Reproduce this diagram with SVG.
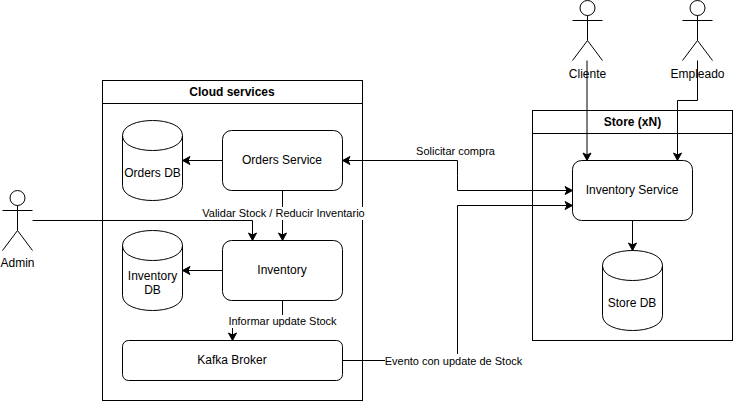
<svg xmlns="http://www.w3.org/2000/svg" width="733" height="401" viewBox="0 0 733 401">
<defs>
<style>
.s{fill:#fff;stroke:#000;stroke-width:1}
.n{fill:none;stroke:#000;stroke-width:1}
.c{fill:none;stroke:#000;stroke-width:1;stroke-miterlimit:10}
.a{marker-end:url(#arrow)}
text{font-family:"Liberation Sans",Arial,Helvetica,sans-serif;font-size:12px;fill:#000;text-anchor:middle}
.b{font-weight:bold}
.l{font-size:11px}
.bg{fill:#fff;stroke:none}
</style>
<marker id="arrow" markerUnits="userSpaceOnUse" markerWidth="12" markerHeight="12" viewBox="0 0 12 12" refX="10" refY="6" orient="auto">
<path d="M10 6L2.5 10L4.5 6L2.5 2Z" fill="#000" stroke="#000" stroke-width="1"/>
</marker>
</defs>
<rect width="733" height="401" fill="#fff"/>
<g id="cloud-services">
<rect class="s" x="102.5" y="80.5" width="260" height="320"/>
<path class="n" d="M102.5 103.5H362.5"/>
<text class="b" x="232" y="96">Cloud services</text>
</g>
<g id="store">
<rect class="s" x="532.5" y="110.5" width="200" height="230"/>
<path class="n" d="M532.5 133.5H732.5"/>
<text class="b" x="632.5" y="126">Store (xN)</text>
</g>
<g id="orders-db">
<path class="s" d="M122.5 135.5C122.5 115.5 182.5 115.5 182.5 135.5V185.5C182.5 205.5 122.5 205.5 122.5 185.5Z"/>
<path class="n" d="M122.5 135.5C122.5 155.5 182.5 155.5 182.5 135.5"/>
<text x="152.5" y="177">Orders DB</text>
</g>
<g id="orders-service">
<rect class="s" x="222.5" y="130.5" width="120" height="60" rx="9" ry="9"/>
<text x="282" y="164">Orders Service</text>
</g>
<g id="inventory-db">
<path class="s" d="M122.5 245.5C122.5 225.5 182.5 225.5 182.5 245.5V295.5C182.5 315.5 122.5 315.5 122.5 295.5Z"/>
<path class="n" d="M122.5 245.5C122.5 265.5 182.5 265.5 182.5 245.5"/>
<text x="152.5" y="280">Inventory</text>
<text x="152.5" y="294">DB</text>
</g>
<g id="inventory">
<rect class="s" x="222.5" y="240.5" width="120" height="60" rx="9" ry="9"/>
<text x="282" y="274">Inventory</text>
</g>
<g id="kafka-broker">
<rect class="s" x="122.5" y="340.5" width="220" height="40" rx="6" ry="6"/>
<text x="232" y="364">Kafka Broker</text>
</g>
<g id="inventory-service">
<rect class="s" x="572.5" y="160.5" width="120" height="60" rx="9" ry="9"/>
<text x="632" y="194">Inventory Service</text>
</g>
<g id="store-db">
<path class="s" d="M602.5 265.5C602.5 245.5 662.5 245.5 662.5 265.5V315.5C662.5 335.5 602.5 335.5 602.5 315.5Z"/>
<path class="n" d="M602.5 265.5C602.5 285.5 662.5 285.5 662.5 265.5"/>
<text x="632" y="307">Store DB</text>
</g>
<g id="admin">
<circle class="s" cx="17.5" cy="198" r="7.5"/>
<path class="n" d="M17.5 205.5V230.5M2.5 210.5H32.5M2.5 250.5L17.5 230.5L32.5 250.5"/>
<text x="17.5" y="267">Admin</text>
</g>
<g id="cliente">
<circle class="s" cx="587.5" cy="8" r="7.5"/>
<path class="n" d="M587.5 15.5V40.5M572.5 20.5H602.5M572.5 60.5L587.5 40.5L602.5 60.5"/>
<text x="587.5" y="78">Cliente</text>
</g>
<g id="empleado">
<circle class="s" cx="697.5" cy="8" r="7.5"/>
<path class="n" d="M697.5 15.5V40.5M682.5 20.5H712.5M682.5 60.5L697.5 40.5L712.5 60.5"/>
<text x="697.5" y="78">Empleado</text>
</g>
<g id="connectors">
<path class="c a" d="M222.5 160.5H182.5"/>
<path class="c a" d="M222.5 270.5H182.5"/>
<path class="c a" d="M32.5 220.5H252.5V240.5"/>
<path class="c a" d="M282.5 190.5V240.5"/>
<path class="c a" d="M282.5 300.5V320.5H232.5V340.5"/>
<path class="c a" d="M457.5 175.5V160.5H342.5"/>
<path class="c a" d="M457.5 175.5V190.5H572.5"/>
<path class="c a" d="M342.5 360.5H457.5V205.5H572.5"/>
<path class="c a" d="M587 60.5V160.5"/>
<path class="c a" d="M697.5 60.5V100.5H677.5V160.5"/>
<path class="c a" d="M632.5 220.5V250.5"/>
<rect class="bg" x="203" y="207" width="161" height="13"/>
<text class="l" x="283.5" y="217">Validar Stock / Reducir Inventario</text>
<rect class="bg" x="228" y="315" width="109" height="13"/>
<text class="l" x="282.5" y="325">Informar update Stock</text>
<text class="l" x="455.5" y="155">Solicitar compra</text>
<rect class="bg" x="385" y="354" width="137" height="13"/>
<text class="l" x="453.5" y="365">Evento con update de Stock</text>
</g>
</svg>
